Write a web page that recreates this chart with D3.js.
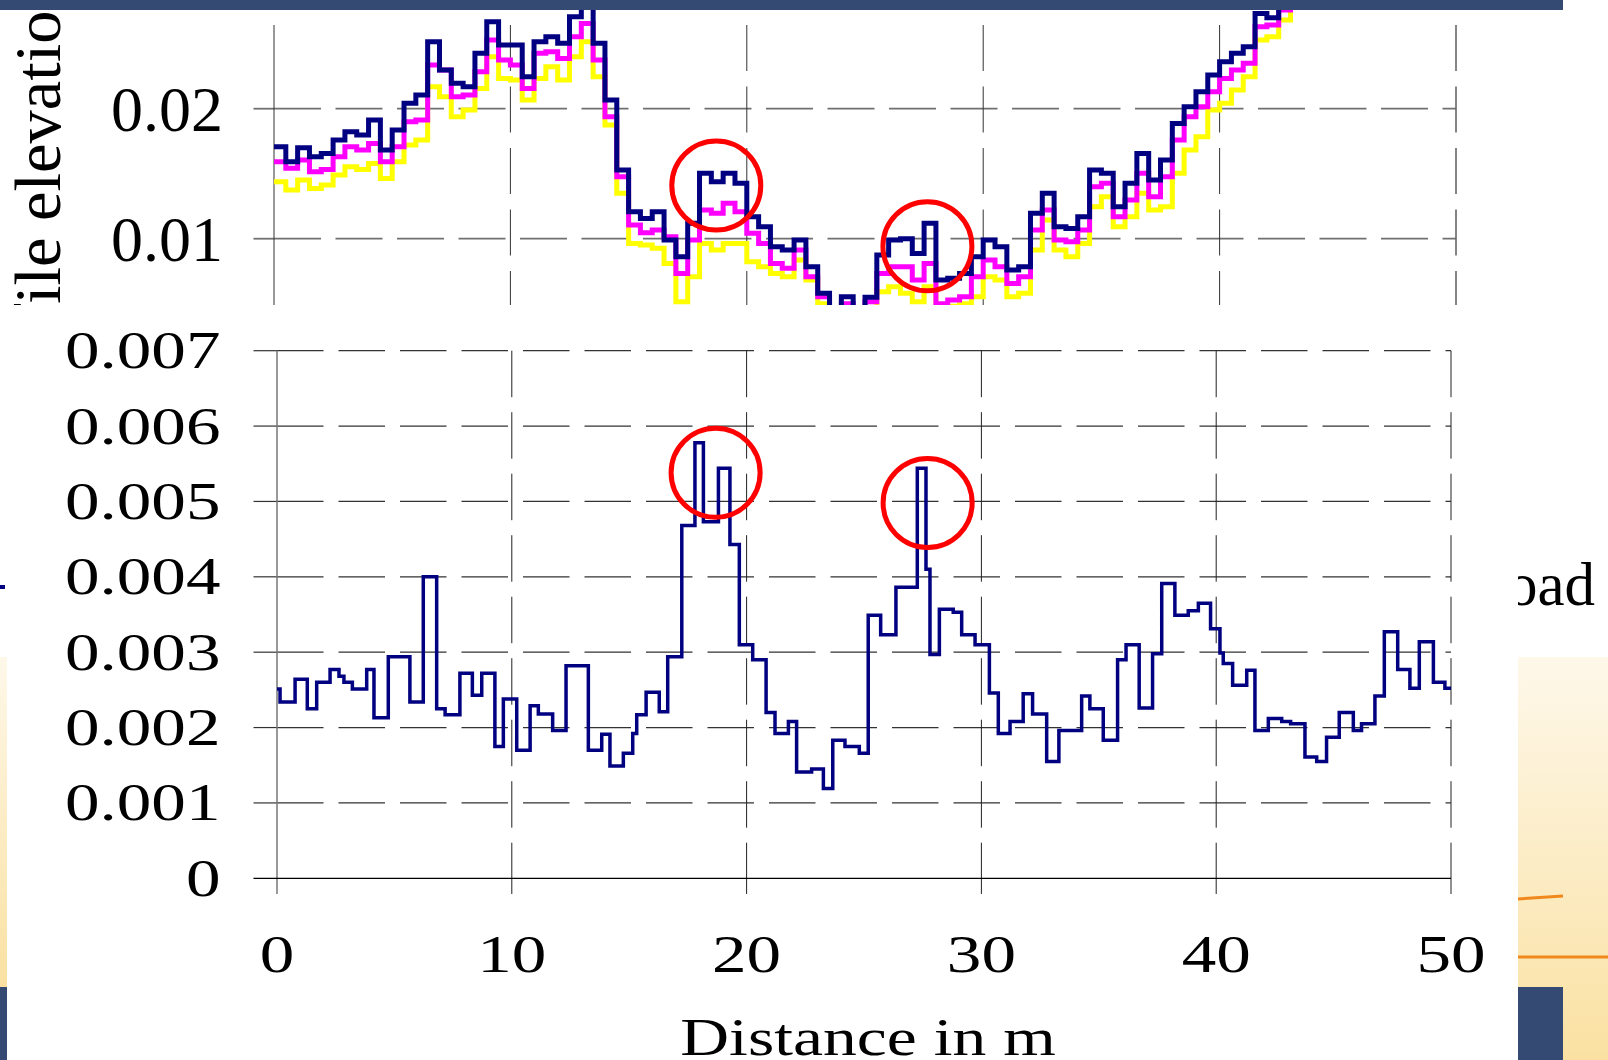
<!DOCTYPE html>
<html>
<head>
<meta charset="utf-8">
<script src="https://cdn.jsdelivr.net/npm/d3@7"></script>
<style>
body { margin: 0; background: #fff; }
svg { display: block; }
text { font-family: "Liberation Serif", "Times New Roman", serif; fill: #000; }
</style>
</head>
<body>
<div id="slide"></div>
<script>
// upper chart, profiles read every 0.5 m
var distUpper = [0,0.5,1,1.5,2,2.5,3,3.5,4,4.5,5,5.5,6,6.5,7,7.5,8,8.5,9,9.5,10,10.5,11,11.5,12,12.5,13,13.5,14,14.5,15,15.5,16,16.5,17,17.5,18,18.5,19,19.5,20,20.5,21,21.5,22,22.5,23,23.5,24,24.5,25,25.5,26,26.5,27,27.5,28,28.5,29,29.5,30,30.5,31,31.5,32,32.5,33,33.5,34,34.5,35,35.5,36,36.5,37,37.5,38,38.5,39,39.5,40,40.5,41,41.5,42,42.5,43,43.5,44,44.5,45,45.5,46,46.5,47,47.5,48,48.5,49,49.5,50];
var navyProfile = [0.01708,0.01592,0.0170,0.01631,0.01656,0.01759,0.01823,0.01797,0.01913,0.01682,0.01836,0.02041,0.02105,0.02515,0.02297,0.02195,0.02169,0.02426,0.02669,0.0249,0.0249,0.02246,0.02515,0.02554,0.02503,0.02708,0.0285,0.02503,0.02067,0.01528,0.01208,0.01156,0.01208,0.0099,0.00862,0.01118,0.01503,0.01438,0.01503,0.01426,0.01169,0.01092,0.00938,0.00913,0.0099,0.00785,0.0058,0.0045,0.00554,0.0045,0.0055,0.00874,0.0099,0.0100,0.00887,0.01118,0.00682,0.00695,0.00733,0.00862,0.0099,0.00938,0.00759,0.00785,0.01195,0.01349,0.01092,0.01079,0.01169,0.01528,0.01503,0.01246,0.01426,0.01656,0.01451,0.01605,0.01887,0.02015,0.02131,0.02259,0.02362,0.02426,0.02477,0.02733,0.0270,0.0285,0.0295,0.0305,0.0312,0.0320,0.0328,0.0335,0.0340,0.0345,0.0350,0.0355,0.0360,0.0365,0.0370,0.0375,0.0380];
var magentaProfile = [0.01592,0.01541,0.01605,0.01515,0.01533,0.01631,0.01708,0.01682,0.01733,0.01592,0.01708,0.0190,0.01913,0.02336,0.02297,0.02092,0.02105,0.02285,0.02528,0.02374,0.02336,0.02156,0.02426,0.02438,0.02387,0.02554,0.02656,0.02374,0.01938,0.01477,0.01105,0.01046,0.01067,0.01015,0.00733,0.0099,0.01221,0.01195,0.01272,0.01208,0.01041,0.00964,0.0081,0.00772,0.00913,0.00708,0.00554,0.0045,0.0050,0.0042,0.00515,0.00733,0.00785,0.00785,0.00682,0.0081,0.0050,0.00528,0.00554,0.00708,0.00836,0.00785,0.00656,0.00708,0.01067,0.01221,0.0099,0.00977,0.01067,0.0140,0.01426,0.01169,0.01297,0.01503,0.01323,0.01477,0.01759,0.01938,0.02015,0.02131,0.02233,0.02297,0.02349,0.02631,0.02644,0.0276,0.0285,0.0295,0.0303,0.0311,0.0319,0.0326,0.0332,0.0338,0.0343,0.0348,0.0353,0.0358,0.0363,0.0368,0.0373];
var yellowProfile = [0.01438,0.01374,0.01451,0.01387,0.01413,0.0149,0.01554,0.01533,0.01579,0.01464,0.01592,0.0172,0.01759,0.02169,0.02092,0.01938,0.0199,0.02156,0.0240,0.02233,0.0222,0.02067,0.02233,0.02323,0.0222,0.0240,0.02515,0.02246,0.01874,0.01349,0.00964,0.00951,0.00926,0.0081,0.00515,0.00708,0.00964,0.00913,0.00964,0.00964,0.00823,0.00785,0.00733,0.00708,0.00836,0.00682,0.0050,0.0042,0.0045,0.0040,0.0045,0.00592,0.00631,0.0058,0.00515,0.00631,0.0045,0.0048,0.0050,0.00554,0.00708,0.00682,0.00554,0.0058,0.00913,0.01144,0.00913,0.00862,0.00964,0.01246,0.01323,0.01092,0.01169,0.01349,0.01221,0.01246,0.01503,0.01682,0.01785,0.0199,0.02041,0.02144,0.02246,0.02528,0.02554,0.02682,0.0278,0.0288,0.0296,0.0304,0.0312,0.0319,0.0325,0.0331,0.0337,0.0342,0.0347,0.0352,0.0357,0.0362,0.0367];
var upperTicks = [0.01, 0.02];
var upperTickLabels = ["0.01", "0.02"];

// lower chart, step breakpoints and levels
var lowerDist = [0,0.13,0.77,1.29,1.69,2.26,2.64,2.85,3.21,3.82,4.13,4.74,5.66,6.23,6.8,7.16,7.79,8.32,8.72,9.28,9.64,10.21,10.78,11.13,11.74,12.31,13.26,13.83,14.18,14.75,15.15,15.32,15.72,16.28,16.64,17.24,17.8,18.16,18.8,19.29,19.69,20.26,20.83,21.21,21.78,22.13,22.77,23.27,23.67,24.19,24.8,25.18,25.71,26.36,27.27,27.64,27.81,28.21,28.8,29.16,29.73,30.34,30.72,31.22,31.78,32.18,32.78,33.3,34.27,34.62,35.19,35.8,36.16,36.72,37.29,37.68,38.24,38.81,39.24,39.76,40.16,40.3,40.7,41.3,41.65,42.22,42.79,43.17,43.78,44.28,44.7,45.24,45.84,46.19,46.76,47.16,47.73,48.25,48.65,49.25,49.74,50];
var lowerDiff = [0.00251,0.00234,0.00264,0.00225,0.0026,0.00277,0.00268,0.0026,0.00251,0.00277,0.00213,0.00294,0.00234,0.0040,0.00225,0.00217,0.00272,0.00243,0.00272,0.00175,0.00238,0.0017,0.00229,0.00218,0.00196,0.00282,0.0017,0.00191,0.00149,0.00166,0.00192,0.00217,0.00247,0.00221,0.00294,0.00468,0.00578,0.00473,0.00544,0.00443,0.0031,0.0029,0.0022,0.00192,0.00208,0.00141,0.00145,0.00119,0.00183,0.00175,0.00166,0.00349,0.00323,0.00386,0.00544,0.0041,0.00297,0.00357,0.00353,0.00323,0.0031,0.00246,0.00192,0.00208,0.00245,0.00218,0.00155,0.00196,0.00242,0.00225,0.00183,0.0029,0.0031,0.00226,0.00298,0.00391,0.00349,0.00355,0.00365,0.00331,0.00299,0.00285,0.00256,0.00276,0.00196,0.00212,0.00208,0.00205,0.00161,0.00155,0.00187,0.0022,0.00196,0.00205,0.00242,0.00327,0.00277,0.00252,0.00314,0.0026,0.00252,0.00252];
var lowerTicks = [0, 0.001, 0.002, 0.003, 0.004, 0.005, 0.006, 0.007];
var lowerTickLabels = ["0", "0.001", "0.002", "0.003", "0.004", "0.005", "0.006", "0.007"];
var distTicks = [0, 10, 20, 30, 40, 50];

// red rings: [distance, value]
var upperRings = [[18.71, 0.01409], [27.64, 0.00942]];
var lowerRings = [[18.68, 0.00538], [27.71, 0.00498]];

var W = 1608, H = 1060;
var navyCol = "#000080";
var slideBlue = "#344a72";

var svg = d3.select("#slide").append("svg").attr("width", W).attr("height", H);
var defs = svg.append("defs");

var grad = defs.append("linearGradient").attr("id", "beige")
	.attr("x1", 0).attr("y1", 0).attr("x2", 0).attr("y2", 1);
grad.append("stop").attr("offset", "0%").attr("stop-color", "#fef8ea");
grad.append("stop").attr("offset", "100%").attr("stop-color", "#fae1a2");

defs.append("clipPath").attr("id", "clipUp")
	.append("rect").attr("x", 0).attr("y", 10).attr("width", W).attr("height", 295);

function drawSlide() {
	// bits of the slide that show round the pasted charts
	svg.append("rect").attr("x", 0).attr("y", 657).attr("width", 7).attr("height", 330).attr("fill", "url(#beige)");
	svg.append("rect").attr("x", 0).attr("y", 987).attr("width", 7).attr("height", 73).attr("fill", slideBlue);
	svg.append("rect").attr("x", 0).attr("y", 585).attr("width", 5).attr("height", 4).attr("fill", navyCol);

	svg.append("rect").attr("x", 1518).attr("y", 657).attr("width", 90).attr("height", 403).attr("fill", "url(#beige)");
	svg.append("line").attr("x1", 1518).attr("y1", 899).attr("x2", 1563).attr("y2", 896)
		.attr("stroke", "#f0881c").attr("stroke-width", 3);
	svg.append("line").attr("x1", 1518).attr("y1", 957).attr("x2", 1608).attr("y2", 957)
		.attr("stroke", "#f0881c").attr("stroke-width", 3);
	svg.append("rect").attr("x", 1518).attr("y", 987).attr("width", 45).attr("height", 73).attr("fill", slideBlue);

	svg.append("text").attr("x", 1595).attr("y", 605).attr("text-anchor", "end")
		.style("font-size", "61px").text("Load");
}

function drawRings(g, rings, xs, ys) {
	g.selectAll("ellipse.ring").data(rings).enter().append("ellipse")
		.attr("class", "ring")
		.attr("cx", function (d) { return xs(d[0]); })
		.attr("cy", function (d) { return ys(d[1]); })
		.attr("rx", 44.5).attr("ry", 44.5)
		.attr("fill", "none").attr("stroke", "#ff0000").attr("stroke-width", 5);
}

function drawUpper() {
	var xUp = d3.scaleLinear().domain([0, 50]).range([274, 1456]);
	var yUp = d3.scaleLinear().domain([0.01, 0.02]).range([238.7, 108.7]);
	var g = svg.append("g").attr("clip-path", "url(#clipUp)");

	// horizontal grid (grey, dashed) with small solid tick at left
	g.selectAll("line.htick").data(upperTicks).enter().append("line")
		.attr("x1", 253.5).attr("x2", xUp(0))
		.attr("y1", function (d) { return yUp(d); }).attr("y2", function (d) { return yUp(d); })
		.attr("stroke", "#707070").attr("stroke-width", 1.8);
	g.selectAll("line.hgrid").data(upperTicks).enter().append("line")
		.attr("x1", xUp(0)).attr("x2", xUp(50))
		.attr("y1", function (d) { return yUp(d); }).attr("y2", function (d) { return yUp(d); })
		.attr("stroke", "#707070").attr("stroke-width", 1.8)
		.attr("stroke-dasharray", "47 14.5");

	// vertical grid
	g.selectAll("line.vgrid").data(distTicks).enter().append("line")
		.attr("x1", function (d) { return xUp(d); }).attr("x2", function (d) { return xUp(d); })
		.attr("y1", 25).attr("y2", 305)
		.attr("stroke", function (d) { return d == 50 ? "#666" : "#333"; })
		.attr("stroke-width", function (d) { return d == 50 ? 1.6 : 1; })
		.attr("stroke-dasharray", function (d) { return d == 0 ? null : "46 15.5"; });

	var line = d3.line().curve(d3.curveStepAfter)
		.x(function (d, i) { return xUp(distUpper[i]); })
		.y(function (d) { return yUp(d); });

	var series = [[yellowProfile, "#ffff00"], [magentaProfile, "#ff00ff"], [navyProfile, navyCol]];
	series.forEach(function (s) {
		g.append("path").datum(s[0]).attr("d", line)
			.attr("fill", "none").attr("stroke", s[1]).attr("stroke-width", 5)
			.attr("stroke-linejoin", "miter");
	});

	drawRings(g, upperRings, xUp, yUp);

	g.selectAll("text.ylab").data(upperTicks).enter().append("text")
		.attr("x", 223).attr("y", function (d) { return yUp(d) + 22; })
		.attr("text-anchor", "end").style("font-size", "64px")
		.text(function (d, i) { return upperTickLabels[i]; });

	// axis title, only "ile elevatio" is left in view
	var title = g.append("text").style("font-size", "66.5px").text("Profile elevation in m");
	var skip = title.node().getSubStringLength(0, 4);
	title.attr("transform", "translate(60," + (304 + skip) + ") rotate(-90)");
}

function drawLower() {
	var xLow = d3.scaleLinear().domain([0, 50]).range([277, 1451]);
	var yLow = d3.scaleLinear().domain([0, 0.007]).range([878.3, 350.7]);
	var g = svg.append("g");
	var sx = 1.33; // the pasted picture was stretched sideways

	g.append("rect").attr("x", 7).attr("y", 305).attr("width", 1511).attr("height", 755).attr("fill", "#fff");

	var grid = lowerTicks.filter(function (d) { return d > 0; });
	g.selectAll("line.htick").data(grid).enter().append("line")
		.attr("x1", 253.5).attr("x2", xLow(0))
		.attr("y1", function (d) { return yLow(d); }).attr("y2", function (d) { return yLow(d); })
		.attr("stroke", "#333").attr("stroke-width", 1.2);
	g.selectAll("line.hgrid").data(grid).enter().append("line")
		.attr("x1", xLow(0)).attr("x2", xLow(50))
		.attr("y1", function (d) { return yLow(d); }).attr("y2", function (d) { return yLow(d); })
		.attr("stroke", "#333").attr("stroke-width", 1.2)
		.attr("stroke-dasharray", "46.5 15");

	g.selectAll("line.vgrid").data(distTicks).enter().append("line")
		.attr("x1", function (d) { return xLow(d); }).attr("x2", function (d) { return xLow(d); })
		.attr("y1", yLow(0.007)).attr("y2", yLow(0))
		.attr("stroke", function (d) { return d == 0 ? "#777" : "#222"; })
		.attr("stroke-width", function (d) { return d == 0 ? 1.5 : 1; })
		.attr("stroke-dasharray", function (d) { return d == 0 ? null : "46.5 15"; });
	g.selectAll("line.vtick").data(distTicks).enter().append("line")
		.attr("x1", function (d) { return xLow(d); }).attr("x2", function (d) { return xLow(d); })
		.attr("y1", yLow(0)).attr("y2", 894)
		.attr("stroke", function (d) { return d == 0 ? "#777" : "#222"; })
		.attr("stroke-width", function (d) { return d == 0 ? 1.5 : 1; });

	// zero line
	g.append("line").attr("x1", 253.5).attr("x2", xLow(50))
		.attr("y1", yLow(0)).attr("y2", yLow(0))
		.attr("stroke", "#000").attr("stroke-width", 1.3);

	var line = d3.line().curve(d3.curveStepAfter)
		.x(function (d, i) { return xLow(lowerDist[i]); })
		.y(function (d) { return yLow(d); });
	g.append("path").datum(lowerDiff).attr("d", line)
		.attr("fill", "none").attr("stroke", navyCol).attr("stroke-width", 3.5);

	drawRings(g, lowerRings, xLow, yLow);

	g.selectAll("text.ylab").data(lowerTicks).enter().append("text")
		.attr("transform", function (d) { return "translate(220.5," + (yLow(d) + 17.5) + ") scale(" + sx + ",1)"; })
		.attr("text-anchor", "end").style("font-size", "52px")
		.text(function (d, i) { return lowerTickLabels[i]; });

	g.selectAll("text.xlab").data(distTicks).enter().append("text")
		.attr("transform", function (d) { return "translate(" + xLow(d) + ",972) scale(" + sx + ",1)"; })
		.attr("text-anchor", "middle").style("font-size", "52px")
		.text(function (d) { return d; });

	g.append("text").attr("transform", "translate(868,1055) scale(1.3,1)")
		.attr("text-anchor", "middle").style("font-size", "52px")
		.text("Distance in m");
}

drawSlide();
drawUpper();
drawLower();

// title bar of the slide sits over everything
svg.append("rect").attr("x", 0).attr("y", 0).attr("width", 1563).attr("height", 10).attr("fill", slideBlue);
</script>
</body>
</html>
